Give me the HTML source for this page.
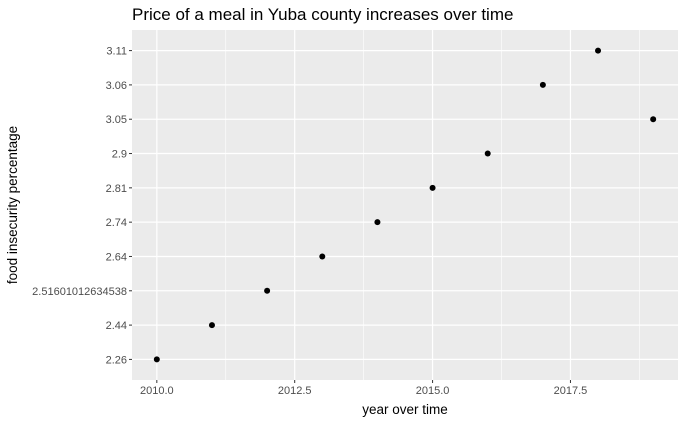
<!DOCTYPE html>
<html><head><meta charset="utf-8"><style>
body{margin:0;background:#fff;font-family:"Liberation Sans",sans-serif}
</style></head><body>
<svg id="chart" width="686" height="423" xmlns="http://www.w3.org/2000/svg">
<text x="132" y="20" font-size="17" fill="#000">Price of a meal in Yuba county increases over time</text>
<rect x="132" y="30" width="546" height="350" fill="#ebebeb"/>
<g id="grid"></g><g id="axes"></g><g id="points"></g>
<text x="405" y="414" font-size="13.5" text-anchor="middle" fill="#000">year over time</text>
<text transform="translate(17,205) rotate(-90)" font-size="13.5" text-anchor="middle" fill="#000">food insecurity percentage</text>
</svg>
<script>
const years=[2010,2011,2012,2013,2014,2015,2016,2017,2018,2019];
const values=["2.26","2.44","2.51601012634538","2.64","2.74","2.81","2.9","3.06","3.11","3.05"];
const yLevels=["2.26","2.44","2.51601012634538","2.64","2.74","2.81","2.9","3.05","3.06","3.11"];
const xTicks=[2010,2012.5,2015,2017.5];
const xMinor=[2011.25,2013.75,2016.25,2018.75];
const NS="http://www.w3.org/2000/svg";
const L=132,R=678,T=30,B=380;
const xmin=Math.min(...years),xmax=Math.max(...years),ex=(xmax-xmin)*0.05;
const xs=v=>L+(v-(xmin-ex))/((xmax+ex)-(xmin-ex))*(R-L);
const n=yLevels.length;
const ys=lab=>B-(yLevels.indexOf(lab)+0.6)/(n-1+1.2)*(B-T);
function mk(t,a,p){const e=document.createElementNS(NS,t);for(const k in a)e.setAttribute(k,a[k]);p.appendChild(e);return e;}
const g=document.getElementById('grid'),ax=document.getElementById('axes'),pt=document.getElementById('points');
xMinor.forEach(v=>{const e=mk('line',{x1:xs(v),x2:xs(v),y1:T,y2:B,stroke:'#fff','stroke-width':0.6},g);

});
xTicks.forEach(v=>{const e=mk('line',{x1:xs(v),x2:xs(v),y1:T,y2:B,stroke:'#fff','stroke-width':1.2},g);


const t=mk('line',{x1:xs(v),x2:xs(v),y1:B,y2:B+3,stroke:'#333','stroke-width':1},ax);


const l=mk('text',{x:xs(v),y:B+14,'font-size':11,'text-anchor':'middle',fill:'#4d4d4d'},ax);l.textContent=v.toFixed(1);

});
yLevels.forEach(lab=>{const y=ys(lab);
const e=mk('line',{x1:L,x2:R,y1:y,y2:y,stroke:'#fff','stroke-width':1.2},g);


const t=mk('line',{x1:L-3,x2:L,y1:y,y2:y,stroke:'#333','stroke-width':1},ax);


const l=mk('text',{x:L-5,y:y+4,'font-size':11,'text-anchor':'end',fill:'#4d4d4d'},ax);l.textContent=lab;

});
years.forEach((yr,i)=>{const c=mk('circle',{cx:xs(yr),cy:ys(values[i]),r:3,fill:'#000'},pt);

});
</script>
</body></html>
